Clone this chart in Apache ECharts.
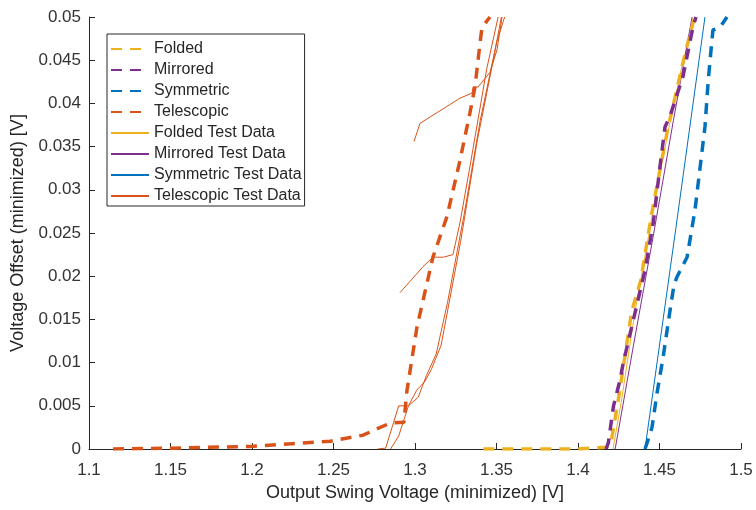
<!DOCTYPE html>
<html>
<head>
<meta charset="utf-8">
<script src="https://cdn.jsdelivr.net/npm/echarts@6/dist/echarts.min.js"></script>
<style>html,body{margin:0;padding:0;background:#fff}#c{width:756px;height:510px}</style>
</head>
<body>
<div id="c"></div>
<script>
// ---- data ----
var xTicks = [1.1, 1.15, 1.2, 1.25, 1.3, 1.35, 1.4, 1.45, 1.5];
var yTicks = [0, 0.005, 0.01, 0.015, 0.02, 0.025, 0.03, 0.035, 0.04, 0.045, 0.05];

var foldedX = [1.3419, 1.36, 1.38, 1.40, 1.4176, 1.4205, 1.4250, 1.4330, 1.4385, 1.4450, 1.4550, 1.4660, 1.4715];
var foldedY = [0, 0, 0, 0, 0.0002, 0.0010, 0.0060, 0.0160, 0.0195, 0.0270, 0.0370, 0.0460, 0.0500];

var mirroredX = [1.4172, 1.4186, 1.4217, 1.4258, 1.4278, 1.4339, 1.4411, 1.4462, 1.4503, 1.4534, 1.4564, 1.4644, 1.4706, 1.4724];
var mirroredY = [0, 0.0007, 0.0049, 0.0080, 0.0100, 0.0149, 0.0207, 0.0262, 0.0327, 0.0373, 0.0385, 0.0431, 0.0489, 0.0500];

var symmetricX = [1.4411, 1.4429, 1.4454, 1.4485, 1.4522, 1.4565, 1.4589, 1.4607, 1.4669, 1.4687, 1.4718, 1.4749, 1.4779, 1.4798, 1.4820, 1.4828, 1.4871, 1.4914];
var symmetricY = [0, 0.0010, 0.0025, 0.0065, 0.0106, 0.0161, 0.0190, 0.0199, 0.0222, 0.0242, 0.0277, 0.0326, 0.0373, 0.0424, 0.0470, 0.0485, 0.0488, 0.0500];

var telescopicX = [1.1147, 1.1497, 1.1988, 1.2479, 1.2681, 1.2847, 1.2932, 1.2945, 1.2951, 1.3012, 1.3110, 1.3196, 1.3276, 1.3337, 1.3368, 1.3399, 1.3411, 1.3460];
var telescopicY = [0, 0.0001, 0.0003, 0.0009, 0.0016, 0.0030, 0.0031, 0.0057, 0.0068, 0.0141, 0.0222, 0.0269, 0.0334, 0.0389, 0.0419, 0.0470, 0.0488, 0.0500];

var foldedTestX = [1.4215, 1.4270, 1.4330, 1.4355, 1.4380, 1.4450, 1.4550, 1.4640, 1.4718];
var foldedTestY = [0, 0.0060, 0.0135, 0.0165, 0.0190, 0.0265, 0.0365, 0.0445, 0.0500];

var mirroredTestX = [1.4228, 1.4345, 1.4465, 1.4585, 1.4700];
var mirroredTestY = [0, 0.0125, 0.0250, 0.0380, 0.0500];

var symmetricTestX = [1.4411, 1.4600, 1.4779];
var symmetricTestY = [0, 0.0255, 0.0500];

var telTest1X = [1.2770, 1.2820, 1.2900, 1.2960, 1.3010, 1.3060, 1.3100, 1.3160, 1.3280, 1.3380, 1.3480, 1.3530];
var telTest1Y = [0, 0.0001, 0.0050, 0.0050, 0.0068, 0.0078, 0.0092, 0.0120, 0.0240, 0.0355, 0.0450, 0.0500];
var telTest2X = [1.2850, 1.2900, 1.2960, 1.3020, 1.3070, 1.3130, 1.3200, 1.3300, 1.3400, 1.3500, 1.3550];
var telTest2Y = [0, 0.0015, 0.0050, 0.0060, 0.0085, 0.0110, 0.0170, 0.0270, 0.0380, 0.0470, 0.0500];
var telTest3X = [1.2908, 1.3049, 1.3110, 1.3175, 1.3233, 1.3276, 1.3340, 1.3440, 1.3510];
var telTest3Y = [0.0181, 0.0211, 0.0222, 0.0222, 0.0225, 0.0262, 0.0330, 0.0440, 0.0500];
var telTest4X = [1.2994, 1.3031, 1.3276, 1.3350, 1.3356, 1.3387, 1.3460, 1.3503, 1.3534];
var telTest4Y = [0.0356, 0.0377, 0.0406, 0.0412, 0.0419, 0.0419, 0.0436, 0.0462, 0.0500];

// ---- colours ----
var cBlue = '#0072BD', cOrange = '#D95319', cYellow = '#EDB120', cPurple = '#7E2F8E';

function pairs(xs, ys) { return xs.map(function (x, i) { return [x, ys[i]]; }); }

function dashed(name, xs, ys, color) {
  return { name: name, type: 'line', data: pairs(xs, ys), symbol: 'none', z: 3,
    lineStyle: { color: color, width: 3.5, type: [11, 8] }, itemStyle: { color: color } };
}
function thin(name, xs, ys, color) {
  return { name: name, type: 'line', data: pairs(xs, ys), symbol: 'none', z: 2,
    lineStyle: { color: color, width: 1 }, itemStyle: { color: color } };
}

var series = [
  dashed('Folded', foldedX, foldedY, cYellow),
  dashed('Mirrored', mirroredX, mirroredY, cPurple),
  dashed('Symmetric', symmetricX, symmetricY, cBlue),
  dashed('Telescopic', telescopicX, telescopicY, cOrange),
  thin('Folded Test Data', foldedTestX, foldedTestY, cYellow),
  thin('Mirrored Test Data', mirroredTestX, mirroredTestY, cPurple),
  thin('Symmetric Test Data', symmetricTestX, symmetricTestY, cBlue),
  thin('Telescopic Test Data', telTest1X, telTest1Y, cOrange),
  thin('Telescopic Test Data', telTest2X, telTest2Y, cOrange),
  thin('Telescopic Test Data', telTest3X, telTest3Y, cOrange),
  thin('Telescopic Test Data', telTest4X, telTest4Y, cOrange)
];

var axisColor = '#262626';
var fontFam = 'Liberation Sans, Arial, sans-serif';

var chart = echarts.init(document.getElementById('c'), null, { renderer: 'canvas' });
chart.setOption({
  animation: false,
  backgroundColor: '#fff',
  grid: { left: 89, right: 15, top: 17, bottom: 61, containLabel: false },
  legend: {
    orient: 'vertical', left: 107, top: 34,
    data: ['Folded', 'Mirrored', 'Symmetric', 'Telescopic', 'Folded Test Data', 'Mirrored Test Data', 'Symmetric Test Data', 'Telescopic Test Data'],
    itemWidth: 38, itemHeight: 14, itemGap: 5,
    padding: [7, 3, 2, 3],
    backgroundColor: '#fff', borderColor: axisColor, borderWidth: 1,
    itemStyle: { opacity: 0 },
    textStyle: { fontFamily: fontFam, fontSize: 16, color: '#262626' }
  },
  xAxis: {
    type: 'value', min: 1.1, max: 1.5, interval: 0.05,
    name: 'Output Swing Voltage (minimized) [V]', nameLocation: 'middle', nameGap: 33,
    nameTextStyle: { fontFamily: fontFam, fontSize: 18, color: '#262626' },
    axisLine: { show: true, onZero: false, lineStyle: { color: axisColor, width: 1 } },
    axisTick: { show: true, inside: true, length: 6, lineStyle: { color: axisColor } },
    axisLabel: { margin: 13, fontFamily: fontFam, fontSize: 17, color: '#333',
      formatter: function (v) { var m = xTicks.filter(function (t) { return Math.abs(t - v) < 1e-9; }); return m.length ? String(m[0]) : ''; } },
    splitLine: { show: false }
  },
  yAxis: {
    type: 'value', min: 0, max: 0.05, interval: 0.005,
    name: 'Voltage Offset (minimized) [V]', nameLocation: 'middle', nameGap: 62,
    nameTextStyle: { fontFamily: fontFam, fontSize: 18, color: '#262626' },
    axisLine: { show: true, onZero: false, lineStyle: { color: axisColor, width: 1 } },
    axisTick: { show: true, inside: true, length: 6, lineStyle: { color: axisColor } },
    axisLabel: { margin: 8, fontFamily: fontFam, fontSize: 17, color: '#333',
      formatter: function (v) { var m = yTicks.filter(function (t) { return Math.abs(t - v) < 1e-9; }); return m.length ? String(m[0]) : ''; } },
    splitLine: { show: false }
  },
  series: series
});
</script>
</body>
</html>
